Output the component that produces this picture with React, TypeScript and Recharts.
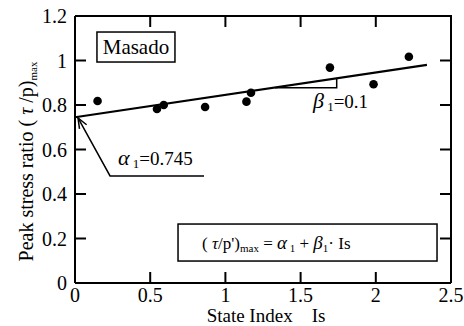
import React from 'react';
import { ComposedChart, ReferenceLine, Scatter, XAxis, YAxis } from 'recharts';

// measured points (state index vs peak stress ratio)
const stateIndex = [0.15, 0.545, 0.59, 0.865, 1.14, 1.17, 1.695, 1.985, 2.22];
const peakRatio = [0.818, 0.782, 0.8, 0.791, 0.815, 0.855, 0.968, 0.893, 1.017];

const xTicks = [0, 0.5, 1, 1.5, 2, 2.5];
const yTicks = [0, 0.2, 0.4, 0.6, 0.8, 1, 1.2];

// fitted line, slope triangle and the alpha callout
const fitIs = [0, 2.34];
const fitRatio = [0.745, 0.98];
const slopeIs = [1.33, 1.74, 1.74];
const slopeRatio = [0.878, 0.878, 0.919];
const calloutIs = [0.02, 0.233, 0.858];
const calloutRatio = [0.742, 0.481, 0.481];

const serif = '"Liberation Serif", "Times New Roman", Times, serif';
const TICK = 11;

const xMin = xTicks[0];
const xMax = xTicks[xTicks.length - 1];
const yMin = yTicks[0];
const yMax = yTicks[yTicks.length - 1];

const toPoints = (xs: number[], ys: number[]) => xs.map((x, i) => ({ is: x, ratio: ys[i] }));
const at = (x: number, y: number) => [{ is: x, ratio: y }];

const tickStyle = { fill: '#000', fontSize: 20, fontFamily: serif };

const Dot = (p: any) => <circle cx={p.cx} cy={p.cy} r={4.3} fill="#000" />;
const NoDot = () => <g />;

const ArrowHead = (p: any) => {
  const a = Math.atan2(58, 33);
  const len = 11;
  const w1 = a - 0.38;
  const w2 = a + 0.38;
  return (
    <path
      d={`M${p.cx + len * Math.cos(w1)},${p.cy + len * Math.sin(w1)} L${p.cx},${p.cy} L${p.cx + len * Math.cos(w2)},${p.cy + len * Math.sin(w2)}`}
      stroke="#000"
      strokeWidth={1.5}
      fill="none"
    />
  );
};

// inward tick marks on both ends of a reference line
const HTicks = (p: any) => {
  const l = Math.min(p.x1, p.x2);
  const r = Math.max(p.x1, p.x2);
  return (
    <g>
      <line x1={l} x2={l + TICK} y1={p.y1} y2={p.y1} stroke="#000" strokeWidth={2} />
      <line x1={r} x2={r - TICK} y1={p.y1} y2={p.y1} stroke="#000" strokeWidth={2} />
    </g>
  );
};
const VTicks = (p: any) => {
  const t = Math.min(p.y1, p.y2);
  const b = Math.max(p.y1, p.y2);
  return (
    <g>
      <line x1={p.x1} x2={p.x1} y1={t} y2={t + TICK} stroke="#000" strokeWidth={2} />
      <line x1={p.x1} x2={p.x1} y1={b} y2={b - TICK} stroke="#000" strokeWidth={2} />
    </g>
  );
};

// annotations, anchored at one data point each
const MasadoBox = (p: any) => (
  <g>
    <rect x={p.cx} y={p.cy} width={78} height={30} fill="#fff" stroke="#000" strokeWidth={1.5} />
    <text x={p.cx + 39} y={p.cy + 22} textAnchor="middle" fontSize={21} fill="#000" fontFamily={serif}>
      Masado
    </text>
  </g>
);

const EquationBox = (p: any) => (
  <g>
    <rect x={p.cx} y={p.cy} width={259} height={37} fill="#fff" stroke="#000" strokeWidth={1.5} />
    <text
      x={p.cx + 24}
      y={p.cy + 25}
      fontSize={17}
      fill="#000"
      fontFamily={serif}
      style={{ whiteSpace: 'pre' }}
    >
      <tspan>{'( '}</tspan>
      <tspan fontStyle="italic">τ</tspan>
      <tspan>{"/p')"}</tspan>
      <tspan fontSize={11} dy={3}>max</tspan>
      <tspan dy={-3}>{' = '}</tspan>
      <tspan fontStyle="italic" fontSize={19}>α</tspan>
      <tspan fontSize={11} dy={3}>{' 1'}</tspan>
      <tspan dy={-3}>{' + '}</tspan>
      <tspan fontStyle="italic" fontSize={19}>β</tspan>
      <tspan fontSize={11} dy={3}>1</tspan>
      <tspan dy={-3}>{'· Is'}</tspan>
    </text>
  </g>
);

const AlphaText = (p: any) => (
  <text x={p.cx} y={p.cy} fontSize={19} fill="#000" fontFamily={serif} style={{ whiteSpace: 'pre' }}>
    <tspan fontStyle="italic" fontSize={22}>α</tspan>
    <tspan fontSize={13} dy={3}>{' 1'}</tspan>
    <tspan dy={-3}>=0.745</tspan>
  </text>
);

const BetaText = (p: any) => (
  <text x={p.cx} y={p.cy} fontSize={19} fill="#000" fontFamily={serif} style={{ whiteSpace: 'pre' }}>
    <tspan fontStyle="italic" fontSize={22}>β</tspan>
    <tspan fontSize={13} dy={3}>{' 1'}</tspan>
    <tspan dy={-3}>=0.1</tspan>
  </text>
);

const YTitle = (p: any) => (
  <text
    x={p.cx - 42}
    y={p.cy + 12}
    transform={`rotate(-90, ${p.cx - 42}, ${p.cy + 12})`}
    textAnchor="middle"
    fontSize={20}
    fill="#000"
    fontFamily={serif}
    style={{ whiteSpace: 'pre' }}
  >
    <tspan>{'Peak stress ratio ( '}</tspan>
    <tspan fontStyle="italic">τ</tspan>
    <tspan>{' /p)'}</tspan>
    <tspan fontSize={11} dy={4}>max</tspan>
  </text>
);

const XTitle = (p: any) => (
  <text
    x={p.cx + 3}
    y={p.cy + 39}
    textAnchor="middle"
    fontSize={19}
    fill="#000"
    fontFamily={serif}
    style={{ whiteSpace: 'pre' }}
  >
    {'State Index    Is'}
  </text>
);

export default function App() {
  return (
    <div style={{ width: 464, height: 326, background: '#fff', fontFamily: serif }}>
      <style>{'body{margin:0}'}</style>
      <ComposedChart
        width={464}
        height={326}
        margin={{ top: 16, right: 13, bottom: 13, left: 0 }}
      >
        <XAxis
          dataKey="is"
          type="number"
          domain={[xMin, xMax]}
          ticks={xTicks}
          height={30}
          stroke="#000"
          strokeWidth={2}
          tickLine={false}
          tickSize={0}
          tickMargin={5}
          tick={tickStyle}
        />
        <YAxis
          type="number"
          domain={[yMin, yMax]}
          ticks={yTicks}
          width={75}
          stroke="#000"
          strokeWidth={2}
          tickLine={false}
          tickSize={0}
          tickMargin={8}
          tick={tickStyle}
        />

        {yTicks.map((v) => (
          <ReferenceLine key={`y${v}`} y={v} shape={HTicks} />
        ))}
        {xTicks.map((v) => (
          <ReferenceLine key={`x${v}`} x={v} shape={VTicks} />
        ))}

        {/* frame: top and right border */}
        <Scatter
          data={toPoints([xMin, xMax, xMax], [yMax, yMax, yMin])}
          dataKey="ratio"
          line={{ stroke: '#000', strokeWidth: 2 }}
          shape={NoDot}
          isAnimationActive={false}
        />

        <Scatter
          data={toPoints(fitIs, fitRatio)}
          dataKey="ratio"
          line={{ stroke: '#000', strokeWidth: 2.2 }}
          shape={NoDot}
          isAnimationActive={false}
        />
        <Scatter
          data={toPoints(slopeIs, slopeRatio)}
          dataKey="ratio"
          line={{ stroke: '#000', strokeWidth: 1.5 }}
          shape={NoDot}
          isAnimationActive={false}
        />
        <Scatter
          data={toPoints(calloutIs, calloutRatio)}
          dataKey="ratio"
          line={{ stroke: '#000', strokeWidth: 1.5 }}
          shape={NoDot}
          isAnimationActive={false}
        />
        <Scatter
          data={at(calloutIs[0], calloutRatio[0])}
          dataKey="ratio"
          shape={ArrowHead}
          isAnimationActive={false}
        />
        <Scatter
          data={toPoints(stateIndex, peakRatio)}
          dataKey="ratio"
          shape={Dot}
          isAnimationActive={false}
        />

        <Scatter data={at(0.146, 1.128)} dataKey="ratio" shape={MasadoBox} isAnimationActive={false} />
        <Scatter data={at(0.685, 0.265)} dataKey="ratio" shape={EquationBox} isAnimationActive={false} />
        <Scatter data={at(0.286, 0.53)} dataKey="ratio" shape={AlphaText} isAnimationActive={false} />
        <Scatter data={at(1.582, 0.787)} dataKey="ratio" shape={BetaText} isAnimationActive={false} />
        <Scatter data={at(xMin, 0.6)} dataKey="ratio" shape={YTitle} isAnimationActive={false} />
        <Scatter data={at(1.25, yMin)} dataKey="ratio" shape={XTitle} isAnimationActive={false} />
      </ComposedChart>
    </div>
  );
}
